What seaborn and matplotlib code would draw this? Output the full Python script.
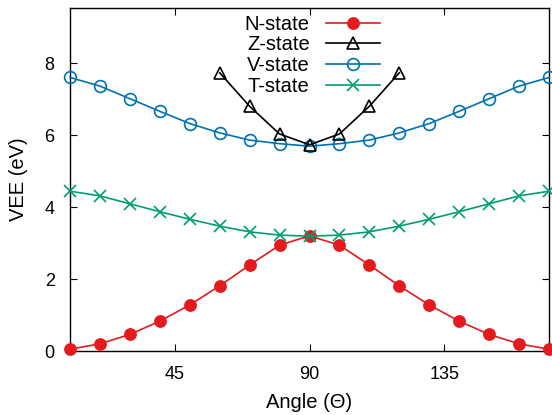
import matplotlib
matplotlib.use('Agg')
import matplotlib.pyplot as plt
import pandas as pd
import seaborn as sns

plt.rcParams['font.family'] = ['Liberation Sans', 'DejaVu Sans']

# angles (degrees)
angle = [10, 20, 30, 40, 50, 60, 70, 80, 90, 100, 110, 120, 130, 140, 150, 160, 170]
n_state = [0.05, 0.2, 0.46, 0.83, 1.28, 1.81, 2.39, 2.94, 3.2, 2.94, 2.39, 1.81, 1.28, 0.83, 0.46, 0.2, 0.05]
t_state = [4.44, 4.31, 4.09, 3.87, 3.66, 3.47, 3.31, 3.22, 3.19, 3.22, 3.31, 3.47, 3.66, 3.87, 4.09, 4.31, 4.44]
v_state = [7.60, 7.36, 7.01, 6.66, 6.32, 6.06, 5.86, 5.76, 5.69, 5.76, 5.86, 6.06, 6.32, 6.66, 7.01, 7.36, 7.60]
z_angle = [60, 70, 80, 90, 100, 110, 120]
z_state = [7.73, 6.8, 6.03, 5.73, 6.03, 6.8, 7.73]

red = '#e41a1c'
blue = '#0072b2'
green = '#009e73'

fig = plt.figure(figsize=(5.52, 4.15), dpi=100)
ax = fig.add_axes([70/552, 64/415, 479/552, 343/415])

lw = 1.2
common = dict(linewidth=lw, markeredgewidth=1.2, clip_on=False, ax=ax)

df_n = pd.DataFrame({'angle': angle, 'vee': n_state})
df_z = pd.DataFrame({'angle': z_angle, 'vee': z_state})
df_v = pd.DataFrame({'angle': angle, 'vee': v_state})
df_t = pd.DataFrame({'angle': angle, 'vee': t_state})

sns.lineplot(data=df_n, x='angle', y='vee', color=red, marker='o', markersize=8,
             markerfacecolor=red, markeredgecolor=red, label='N-state', zorder=5, **common)
sns.lineplot(data=df_z, x='angle', y='vee', color='black', marker='^', markersize=8,
             markerfacecolor='none', markeredgecolor='black', label='Z-state', zorder=4, **common)
sns.lineplot(data=df_v, x='angle', y='vee', color=blue, marker='o', markersize=8.5,
             markerfacecolor='none', markeredgecolor=blue, label='V-state', zorder=3, **common)
sns.lineplot(data=df_t, x='angle', y='vee', color=green, marker='x', markersize=8,
             markeredgecolor=green, label='T-state', zorder=6, **common)

ax.set_xlim(10, 170)
ax.set_ylim(0, 9.53)
ax.set_xticks([45, 90, 135])
ax.set_yticks([0, 2, 4, 6, 8])
ax.tick_params(direction='in', top=True, right=True, length=5, width=0.8,
               labelsize=13, pad=11)
for s in ax.spines.values():
    s.set_linewidth(1.0)

ax.set_xlabel('Angle (Θ)', fontsize=14.5, labelpad=7)
ax.set_ylabel('VEE (eV)', fontsize=14.5, labelpad=12)

leg = ax.legend(loc='upper right', bbox_to_anchor=(0.677, 1.022), frameon=False,
                markerfirst=False, fontsize=14.5, handlelength=2.7, handletextpad=0.8,
                labelspacing=0.09, borderpad=0.2)

fig.savefig('out.png', dpi=100)
